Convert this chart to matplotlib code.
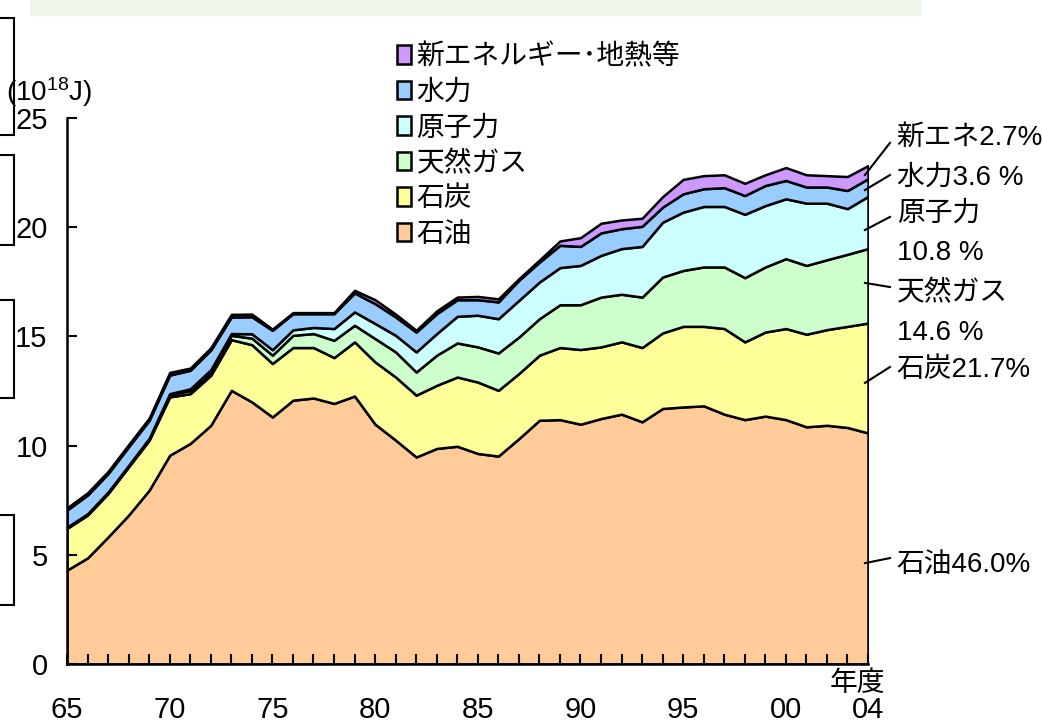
import numpy as np
import matplotlib
matplotlib.use("Agg")
import matplotlib.pyplot as plt
from matplotlib import font_manager
from matplotlib.patches import Rectangle

# fonts: narrow latin face if present, CJK for the Japanese glyphs
names = {f.name for f in font_manager.fontManager.ttflist}
latin = "Liberation Sans Narrow" if "Liberation Sans Narrow" in names else "Liberation Sans"
plt.rcParams["font.family"] = [latin, "Noto Sans CJK JP", "DejaVu Sans"]
plt.rcParams["mathtext.fontset"] = "custom"
plt.rcParams["mathtext.rm"] = latin
plt.rcParams["mathtext.it"] = latin

# data (10^18 J), fiscal years 1965-2004
years = np.arange(1965, 2005)

oil = [4.30, 4.86, 5.82, 6.82, 7.96, 9.56, 10.10, 10.93, 12.53, 12.00,
       11.31, 12.08, 12.18, 11.93, 12.27, 10.98, 10.25, 9.48, 9.87, 9.97,
       9.64, 9.52, 10.32, 11.16, 11.19, 10.98, 11.24, 11.44, 11.09, 11.70,
       11.77, 11.82, 11.44, 11.19, 11.35, 11.19, 10.86, 10.93, 10.83, 10.58]
coal = [1.91, 1.96, 1.99, 2.21, 2.29, 2.67, 2.28, 2.29, 2.32, 2.62,
        2.45, 2.41, 2.31, 2.10, 2.48, 2.85, 2.89, 2.83, 2.89, 3.17,
        3.27, 3.01, 2.98, 2.98, 3.30, 3.42, 3.28, 3.31, 3.40, 3.46,
        3.69, 3.64, 3.92, 3.56, 3.85, 4.17, 4.24, 4.38, 4.63, 5.03]
gas = [0.06, 0.05, 0.06, 0.06, 0.07, 0.11, 0.14, 0.16, 0.20, 0.30,
       0.38, 0.56, 0.64, 0.79, 0.76, 1.07, 1.15, 1.06, 1.38, 1.56,
       1.61, 1.71, 1.67, 1.67, 1.96, 2.05, 2.28, 2.18, 2.31, 2.56,
       2.56, 2.72, 2.82, 2.94, 2.98, 3.20, 3.15, 3.20, 3.30, 3.41]
nuclear = [0.00, 0.01, 0.01, 0.01, 0.02, 0.04, 0.08, 0.10, 0.08, 0.20,
           0.25, 0.25, 0.28, 0.54, 0.61, 0.69, 0.76, 0.92, 0.99, 1.22,
           1.45, 1.57, 1.68, 1.68, 1.70, 1.80, 1.91, 2.09, 2.32, 2.51,
           2.67, 2.77, 2.77, 2.90, 2.81, 2.74, 2.85, 2.59, 2.09, 2.39]
hydro = [0.78, 0.86, 0.84, 0.85, 0.82, 0.85, 0.85, 0.90, 0.76, 0.78,
         0.89, 0.74, 0.63, 0.68, 0.87, 0.91, 0.84, 0.91, 0.91, 0.76,
         0.71, 0.77, 0.92, 0.91, 1.02, 0.87, 1.03, 0.91, 0.92, 0.69,
         0.84, 0.81, 0.86, 0.86, 0.92, 0.84, 0.74, 0.74, 0.83, 0.81]
new_energy = [0.10, 0.10, 0.10, 0.10, 0.10, 0.12, 0.10, 0.10, 0.12, 0.12,
              0.05, 0.05, 0.05, 0.05, 0.12, 0.18, 0.13, 0.08, 0.13, 0.12,
              0.15, 0.14, 0.07, 0.10, 0.20, 0.40, 0.44, 0.40, 0.37, 0.48,
              0.66, 0.60, 0.59, 0.56, 0.49, 0.59, 0.56, 0.52, 0.64, 0.60]

labels = ["石油", "石炭", "天然ガス", "原子力", "水力", "新エネルギー･地熱等"]
colors = ["#ffcc99", "#ffff99", "#ccffcc", "#ccffff", "#99ccff", "#cc99ff"]

tick_years = [1965, 1970, 1975, 1980, 1985, 1990, 1995, 2000, 2004]
tick_labels = ["65", "70", "75", "80", "85", "90", "95", "00", "04"]

# right-hand share labels: text, text y, line start y, line end y
share_text = ["新エネ2.7%", "水力3.6 %", "原子力", "10.8 %", "天然ガス", "14.6 %", "石炭21.7%", "石油46.0%"]
share_text_y = [24.08, 22.25, 20.60, 18.82, 16.99, 15.16, 13.46, 4.53]
leader_from = [22.39, 21.70, 19.87, 17.45, 12.87, 4.62]
leader_to = [23.86, 22.39, 20.47, 17.26, 13.60, 4.85]

W, H = 1042, 728
fig = plt.figure(figsize=(W / 100, H / 100), dpi=100)
ax = fig.add_axes([67 / W, 1 - 664 / H, 801 / W, 546 / H])

polys = ax.stackplot(years, oil, coal, gas, nuclear, hydro, new_energy,
                     colors=colors, labels=labels,
                     edgecolor="black", linewidth=1.8)

ax.set_xlim(1965, 2004)
ax.set_ylim(0, 25)
for s in ["top", "right"]:
    ax.spines[s].set_visible(False)
for s in ["left", "bottom"]:
    ax.spines[s].set_linewidth(1.8)

ax.set_xticks(tick_years)
ax.set_xticklabels(tick_labels)
ax.set_xticks(years, minor=True)
ax.set_yticks([0, 5, 10, 15, 20, 25])
ax.tick_params(axis="x", which="both", direction="in", length=7, width=1.5, pad=23, labelsize=21)
ax.tick_params(axis="y", direction="in", length=7, width=1.5, pad=14, labelsize=21)

# legend, top entry first
handles = polys[::-1]
ax.legend(handles, labels[::-1], loc="upper left",
          bbox_to_anchor=(397 / W, 1 - 44 / H), bbox_transform=fig.transFigure,
          frameon=False, fontsize=20, handlelength=0.5, handleheight=0.65,
          handletextpad=0.2, labelspacing=0.34, borderpad=0, borderaxespad=0)

# leader lines and share labels
for y0, y1 in zip(leader_from, leader_to):
    ax.plot([2003.85, 2005.07], [y0, y1], color="black", lw=1.5, clip_on=False)
for t, y in zip(share_text, share_text_y):
    ax.text(2005.4, y, t, ha="left", va="center", fontsize=20, clip_on=False)

fig.text(857 / W, 1 - 684 / H, "年度", ha="center", va="center", fontsize=20)
fig.text(6 / W, 1 - 92 / H, "(10$^{18}$J)", ha="left", va="center", fontsize=20)

# slide remnants around the chart
fig.patches.append(Rectangle((30 / W, 1 - 15 / H), 890 / W, 15 / H,
                             transform=fig.transFigure, color="#eef5ea", zorder=0))
for top, bot in [(18, 135), (155, 245), (300, 398), (515, 605)]:
    fig.patches.append(Rectangle((-10 / W, 1 - bot / H), 24 / W, (bot - top) / H,
                                 transform=fig.transFigure, fill=False,
                                 edgecolor="black", lw=1.5))

fig.savefig("out.png", dpi=100)
